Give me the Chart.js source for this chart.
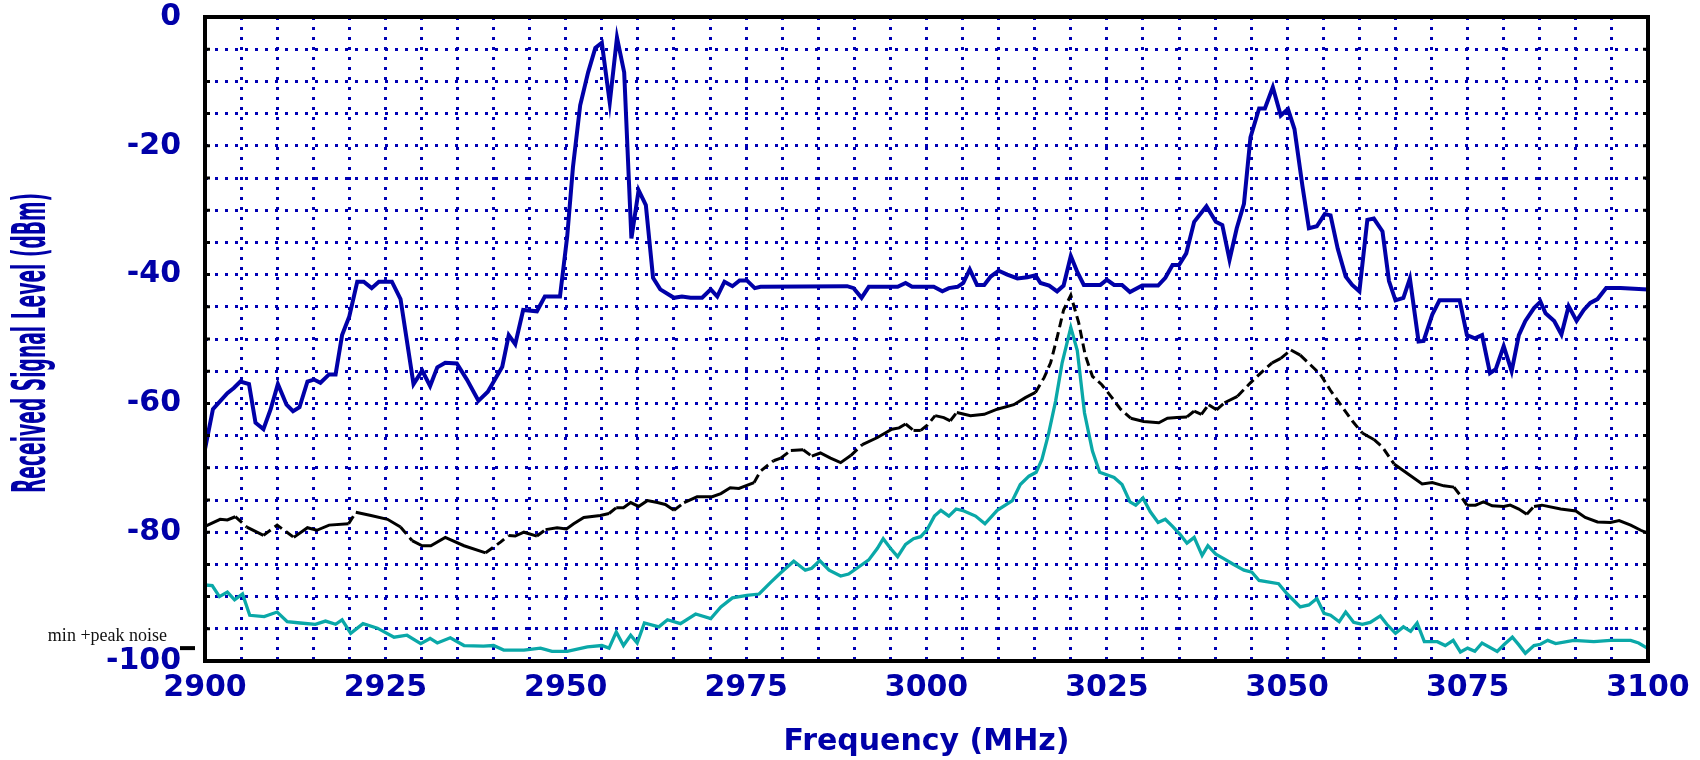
<!DOCTYPE html>
<html>
<head>
<meta charset="utf-8">
<script src="https://cdn.jsdelivr.net/npm/chart.js@4.4.0/dist/chart.umd.min.js"></script>
<style>
  html, body { margin: 0; padding: 0; background: #fff; }
  #wrap { width: 1700px; height: 760px; position: relative; }
</style>
</head>
<body>
<div id="wrap"><canvas id="spectrum"></canvas></div>
<script>
// peak (max hold) level, dBm
const peakFreq = [2900,2901.1,2903.1,2904,2904.9,2906.1,2907,2908.1,2909.1,2910.1,2911.3,2912.2,2913.1,2914.2,2915.1,2916,2917.2,2918.1,2919,2920,2921.1,2922,2923.1,2924.1,2925.9,2927.1,2928.9,2930.1,2931.2,2932.2,2933.3,2934.9,2936.3,2937.9,2939.2,2941.2,2942.1,2943,2944.1,2946,2947.1,2949.2,2950.2,2951,2952,2953.1,2954.1,2955,2956.1,2957.1,2958.1,2959.1,2960.1,2961.1,2962.1,2963.1,2965,2966.1,2967.3,2968.9,2970.1,2971,2972,2973.1,2974.1,2975.1,2976.2,2977,2989,2989.9,2991,2992,2996,2997.1,2998,3001,3002.2,3003.1,3004.3,3005.1,3006,3007,3008,3008.9,3010,3011.2,3012.6,3014,3015.1,3015.8,3017,3018.1,3019,3020,3020.9,3021.8,3024.1,3025,3026,3027.1,3028.2,3029.9,3032.1,3033.1,3034.1,3035,3036,3037.1,3038.8,3040.1,3041,3042,3043,3044,3044.9,3046.1,3046.9,3048,3049.1,3050.1,3051,3052.1,3053,3054.1,3055.2,3056,3057,3058.1,3059,3060,3061.1,3062,3063.2,3064.1,3065,3066.1,3067,3068.2,3068.9,3070.1,3071.1,3073.9,3074.9,3076,3077,3078.1,3078.9,3080,3081.1,3082.1,3083,3084.2,3085.1,3085.8,3087,3088,3089,3090.1,3091.1,3092,3093,3094.2,3096.2,3100];
const peakLevel = [-67.1,-60.9,-58.4,-57.6,-56.6,-57,-63,-64,-60.9,-57,-60.2,-61.2,-60.6,-56.6,-56.3,-56.8,-55.5,-55.5,-49.4,-46.5,-41.1,-41.1,-42.1,-41.1,-41.1,-43.8,-57,-54.9,-57.3,-54.4,-53.7,-53.8,-56.3,-59.6,-58.2,-54.3,-49.4,-50.8,-45.5,-45.7,-43.4,-43.4,-34.1,-23.3,-13.7,-8.6,-4.8,-4,-13.3,-3.2,-8.6,-34.4,-26.9,-29.2,-40.5,-42.3,-43.6,-43.4,-43.6,-43.6,-42.3,-43.4,-41.1,-41.8,-40.9,-40.9,-42.1,-41.9,-41.8,-42.1,-43.6,-41.9,-41.9,-41.3,-41.9,-41.9,-42.6,-42.1,-41.9,-41.3,-39.2,-41.6,-41.6,-40.3,-39.4,-40,-40.6,-40.4,-40.1,-41.3,-41.7,-42.6,-41.7,-37.1,-39.6,-41.6,-41.6,-40.8,-41.6,-41.6,-42.7,-41.7,-41.7,-40.5,-38.5,-38.5,-36.7,-31.8,-29.4,-31.8,-32.3,-37.7,-32.8,-29,-18.7,-14.2,-14.2,-10.9,-15.3,-14.3,-17.4,-26.2,-32.8,-32.5,-30.6,-30.8,-36,-40.3,-41.6,-42.6,-31.5,-31.3,-33.3,-41,-44,-43.6,-40.6,-50.4,-50.3,-46.2,-44,-44,-49.4,-49.9,-49.4,-55.3,-54.7,-51.1,-55,-49.4,-47.2,-45.2,-44.2,-46,-47.2,-49.3,-44.9,-47.2,-45.5,-44.4,-43.8,-42.1,-42.1,-42.3];

// average level, dBm
const avgFreq = [2900,2902.1,2903.1,2904.2,2905.8,2908.1,2910,2912.3,2914.2,2915.5,2917.2,2919.9,2920.9,2923,2925.3,2927.1,2928.7,2930.1,2931.3,2933.3,2935.9,2938.9,2941,2942.1,2943,2944.2,2946,2947.2,2948.8,2950.1,2951.1,2952.5,2954.8,2956,2957,2958,2959,2960.1,2961.3,2962.7,2963.8,2965,2966.4,2968.2,2970.3,2971.5,2972.8,2974,2976.1,2977,2978.8,2979.8,2981.2,2982.9,2984.1,2985.3,2986.7,2988.1,2989.5,2991.1,2993.2,2995.2,2996.2,2997.1,2998.2,2999.2,3000.1,3001.2,3002.4,3003.3,3004.2,3006.1,3008,3009.8,3012.1,3013.7,3015.1,3016.3,3017.2,3018.1,3019,3020,3021.1,3022,3023,3024.3,3025.7,3026.9,3028.3,3030.1,3032.2,3033.4,3034.7,3036.1,3037.1,3038.1,3039.1,3040.2,3041.3,3043.1,3044.9,3046.5,3047.9,3049.1,3050.5,3051.8,3053.2,3054.6,3056,3057.4,3059,3060.4,3062,3063.2,3064.8,3066.8,3068.7,3070.1,3071.7,3073.1,3074,3074.9,3076.1,3077.2,3078.4,3080,3080.9,3082.1,3083.2,3084.2,3085.3,3087.9,3090,3091.3,3093,3094.8,3096,3097.6,3099,3100];
const avgLevel = [-79.1,-78,-78.1,-77.6,-79.2,-80.5,-78.9,-80.8,-79.3,-79.7,-78.9,-78.7,-76.9,-77.4,-78,-79.2,-81.3,-82.1,-82.1,-80.8,-82.1,-83.2,-81.5,-80.5,-80.6,-80,-80.6,-79.6,-79.3,-79.5,-78.7,-77.7,-77.4,-77.1,-76.2,-76.2,-75.4,-76,-75.1,-75.4,-75.7,-76.6,-75.4,-74.5,-74.5,-74,-73.1,-73.2,-72.3,-70.5,-68.9,-68.5,-67.3,-67.2,-68.2,-67.7,-68.5,-69.2,-68.1,-66.4,-65.3,-64,-63.8,-63.2,-64.2,-64.2,-63.4,-61.9,-62.2,-62.7,-61.4,-61.9,-61.7,-60.9,-60.2,-59.1,-58.3,-56,-53.7,-49.8,-45.5,-43.2,-47.5,-52.5,-55.8,-57.1,-59.1,-60.9,-62.3,-62.8,-63,-62.3,-62.2,-62.1,-61.2,-61.7,-60.2,-61,-59.9,-58.9,-56.8,-55.1,-53.7,-53,-51.7,-52.5,-54,-55.5,-58,-60.2,-62.7,-64.6,-65.6,-66.8,-69.4,-71,-72.5,-72.3,-72.8,-73,-74.3,-75.8,-75.8,-75.3,-75.9,-76,-75.8,-76.4,-77.2,-76,-75.8,-76.4,-76.7,-77.7,-78.4,-78.5,-78.2,-78.9,-79.7,-80.2];

// minimum level, dBm
const minFreq = [2900,2901,2902,2903.1,2904.1,2905.2,2906.2,2908.2,2910,2911.4,2913.2,2915.3,2916.7,2918.1,2919,2920.2,2921.9,2923.9,2926.2,2928,2929.9,2931.2,2932.2,2934,2935.9,2938.6,2940,2941.4,2944.2,2946.5,2948.1,2950.2,2953,2955,2956,2957,2958,2959,2959.9,2960.9,2962.9,2964.1,2965.9,2968,2970.1,2971.5,2973.1,2975.1,2976.8,2978.4,2979.8,2981.6,2983.2,2984.1,2985.2,2986.5,2988.1,2989.2,2990.6,2992,2993.2,2994,2995,2996,2997.1,2998.2,2999.2,3000.1,3001.1,3002,3003.1,3004.1,3005.2,3006.8,3008.1,3009.8,3011.9,3013,3014.2,3015.2,3016,3016.9,3017.9,3018.8,3020,3020.9,3021.9,3023,3024,3026,3027.1,3028.2,3029,3030,3031,3032.1,3033.1,3034.1,3035.2,3036.1,3037.1,3038.2,3039,3040.1,3041.2,3042.4,3044,3045.1,3046.1,3048.8,3050,3051.8,3053,3054.1,3055.1,3056,3057.2,3058.1,3059.2,3060.4,3061.5,3062.9,3063.8,3065,3066.1,3067.1,3068,3069,3070.8,3071.9,3073,3074,3075,3076,3077,3079.1,3080.1,3081.2,3082.1,3083,3084.2,3085.1,3086.1,3087.2,3089.7,3092.5,3094.8,3097.6,3098.7,3099.9];
const minLevel = [-88.2,-88.3,-90,-89.3,-90.5,-89.6,-92.9,-93.1,-92.4,-93.9,-94.1,-94.3,-93.8,-94.3,-93.6,-95.7,-94.2,-94.9,-96.3,-96,-97.3,-96.5,-97.2,-96.4,-97.6,-97.7,-97.6,-98.3,-98.3,-98,-98.5,-98.5,-97.8,-97.6,-98,-95.5,-97.6,-96,-97.2,-94.1,-94.7,-93.6,-94.2,-92.7,-93.4,-91.6,-90.2,-89.8,-89.6,-87.8,-86.3,-84.5,-85.9,-85.6,-84.4,-85.9,-86.8,-86.5,-85.4,-84.3,-82.5,-81,-82.5,-83.8,-81.9,-81,-80.7,-79.6,-77.5,-76.6,-77.5,-76.4,-76.7,-77.5,-78.7,-76.6,-75.1,-72.6,-71.3,-70.7,-68.7,-64.8,-59.6,-53.7,-48.2,-51.8,-61.5,-67.4,-70.7,-71.5,-72.6,-75.3,-75.8,-74.7,-76.8,-78.5,-78,-79.1,-80.4,-81.7,-80.8,-83.6,-82.1,-83.4,-84.1,-84.9,-85.9,-86.2,-87.5,-88,-89.6,-91.6,-91.3,-90.3,-92.6,-92.9,-93.9,-92.4,-94,-94.3,-94,-93,-94.3,-95.7,-94.7,-95.4,-94.1,-97,-97,-97.6,-96.8,-98.6,-98,-98.5,-97.2,-98.5,-97.4,-96.3,-97.5,-98.8,-97.6,-97.4,-96.8,-97.3,-96.8,-97,-96.8,-96.8,-97.2,-98];

const noiseMarkLevel = -98;
const noiseMarkText = 'min +peak noise';
const yTitle = 'Received Signal Level (dBm)';
const xTitle = 'Frequency (MHz)';

const navy = '#0000a8';
const tickFont = { family: '"DejaVu Sans", Verdana, sans-serif', size: 30, weight: 'bold' };

function pairs(xs, ys) {
  return xs.map((x, i) => ({ x: x, y: ys[i] }));
}

// y-axis title: tall condensed lettering
const yTitlePlugin = {
  id: 'yTitle',
  afterDraw(chart) {
    const { ctx, chartArea } = chart;
    ctx.save();
    ctx.font = 'bold 46px "Liberation Sans Narrow", "DejaVu Sans Condensed", sans-serif';
    const w = ctx.measureText(yTitle).width;
    ctx.translate(45, (chartArea.top + chartArea.bottom) / 2 + 4);
    ctx.rotate(-Math.PI / 2);
    ctx.scale(300 / w, 1);
    ctx.fillStyle = navy;
    ctx.textAlign = 'center';
    ctx.textBaseline = 'alphabetic';
    ctx.fillText(yTitle, 0, 0);
    ctx.restore();
  }
};

// black frame, inner tick stubs and the noise marker
const framePlugin = {
  id: 'frame',
  afterDatasetsDraw(chart) {
    const { ctx, chartArea: a, scales } = chart;
    ctx.save();
    ctx.strokeStyle = '#000';
    ctx.lineWidth = 3;
    scales.y.ticks.forEach(t => {
      const py = scales.y.getPixelForValue(t.value);
      ctx.beginPath();
      ctx.moveTo(a.left, py); ctx.lineTo(a.left + 5, py);
      ctx.moveTo(a.right - 5, py); ctx.lineTo(a.right, py);
      ctx.stroke();
    });
    ctx.lineWidth = 4;
    ctx.strokeRect(a.left, a.top, a.right - a.left, a.bottom - a.top);

    const ny = scales.y.getPixelForValue(noiseMarkLevel);
    ctx.beginPath();
    ctx.moveTo(a.left - 25, ny); ctx.lineTo(a.left - 10, ny);
    ctx.stroke();
    ctx.fillStyle = '#111';
    ctx.font = '18px "Liberation Serif", "Times New Roman", serif';
    ctx.textAlign = 'right';
    ctx.textBaseline = 'alphabetic';
    ctx.fillText(noiseMarkText, a.left - 38, ny - 7);
    ctx.restore();
  }
};

new Chart(document.getElementById('spectrum'), {
  type: 'line',
  data: {
    datasets: [
      {
        label: 'peak',
        data: pairs(peakFreq, peakLevel),
        borderColor: navy,
        borderWidth: 4,
        pointRadius: 0,
        tension: 0
      },
      {
        label: 'average',
        data: pairs(avgFreq, avgLevel),
        borderColor: '#000',
        borderWidth: 3,
        pointRadius: 0,
        tension: 0,
        segment: {
          borderDash: c => Math.abs((c.p1.y - c.p0.y) / (c.p1.x - c.p0.x)) > 0.72 ? [9, 5] : undefined
        }
      },
      {
        label: 'min',
        data: pairs(minFreq, minLevel),
        borderColor: '#0aa8a8',
        borderWidth: 3.3,
        pointRadius: 0,
        tension: 0
      }
    ]
  },
  options: {
    responsive: true,
    maintainAspectRatio: false,
    animation: false,
    layout: { padding: { left: 0, top: 17, right: 52, bottom: 0 } },
    plugins: { legend: { display: false }, tooltip: { enabled: false } },
    scales: {
      x: {
        type: 'linear',
        min: 2900,
        max: 3100,
        afterFit: s => { s.height = 99; s.paddingLeft = 0; s.paddingRight = 0; },
        ticks: {
          stepSize: 5,
          autoSkip: false,
          maxRotation: 0,
          padding: 9,
          color: navy,
          font: tickFont,
          callback: v => (v % 25 === 0 ? String(v) : '')
        },
        grid: { color: '#0000b4', lineWidth: 3, drawTicks: false },
        border: { display: false, dash: [3, 7] },
        title: {
          display: true,
          text: xTitle,
          color: navy,
          font: tickFont,
          padding: { top: 0, bottom: 0 }
        }
      },
      y: {
        type: 'linear',
        min: -100,
        max: 0,
        afterFit: s => { s.width = 205; s.paddingTop = 0; s.paddingBottom = 0; },
        ticks: {
          stepSize: 5,
          autoSkip: false,
          padding: 24,
          color: navy,
          font: tickFont,
          callback: v => (v % 20 === 0 ? String(v) : '')
        },
        grid: { color: '#0000b4', lineWidth: 3, drawTicks: false },
        border: { display: false, dash: [3, 7] }
      }
    }
  },
  plugins: [yTitlePlugin, framePlugin]
});
</script>
</body>
</html>
